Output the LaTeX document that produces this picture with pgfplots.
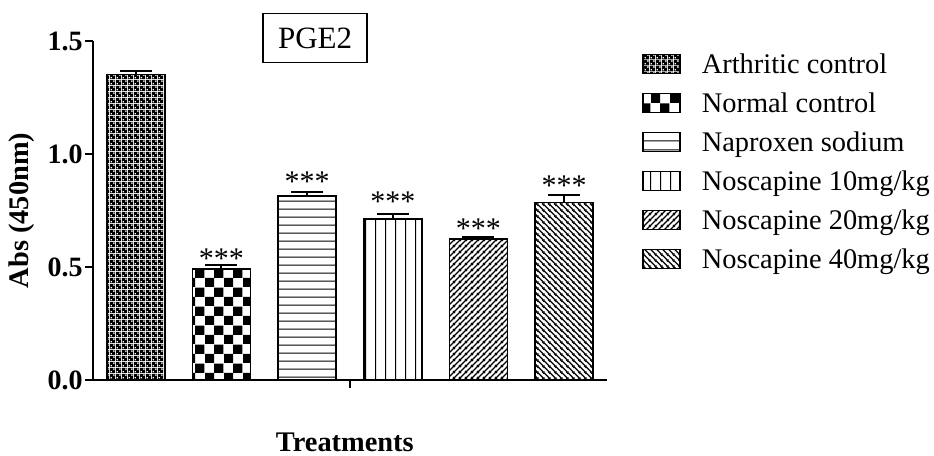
\documentclass[border=0pt]{standalone}
\usepackage{pgfplots}
\pgfplotsset{compat=1.18}
\usetikzlibrary{patterns.meta}
\usepackage{fontspec}
\setmainfont{Liberation Serif}

\tikzdeclarepattern{
  name=finecheck, type=uncolored,
  bounding box={(0pt,0pt) and (2.75pt,2.75pt)},
  tile size={(2.75pt,2.75pt)},
  code={\fill[even odd rule] (0pt,0pt) rectangle (2.75pt,2.75pt) (0.3pt,0.3pt) rectangle (1.15pt,1.15pt) (1.675pt,1.675pt) rectangle (2.525pt,2.525pt);}
}
\tikzdeclarepattern{
  name=coarsecheck, type=uncolored,
  bounding box={(0pt,0pt) and (9.3pt,9.3pt)},
  tile size={(9.3pt,9.3pt)},
  code={\fill (0pt,0pt) rectangle (4.65pt,4.65pt); \fill (4.65pt,4.65pt) rectangle (9.3pt,9.3pt);}
}
\tikzdeclarepattern{
  name=hlinesP, type=uncolored,
  bounding box={(0pt,0pt) and (4.2pt,4.2pt)},
  tile size={(4.2pt,4.2pt)},
  code={\draw[line width=0.5pt] (-0.5pt,2.1pt) -- (4.7pt,2.1pt);}
}
\tikzdeclarepattern{
  name=vlinesP, type=uncolored,
  bounding box={(0pt,0pt) and (4.75pt,4.75pt)},
  tile size={(4.75pt,4.75pt)},
  code={\draw[line width=0.5pt] (2.375pt,-0.5pt) -- (2.375pt,5.25pt);}
}
\tikzdeclarepattern{
  name=nelinesP, type=uncolored,
  bounding box={(0pt,0pt) and (2.8pt,2.8pt)},
  tile size={(2.8pt,2.8pt)},
  code={\draw[line width=0.65pt] (-1pt,-1pt) -- (3.8pt,3.8pt) (0pt,-2.8pt) -- (5.6pt,2.8pt) (-2.8pt,0pt) -- (2.8pt,5.6pt);}
}
\tikzdeclarepattern{
  name=nwlinesP, type=uncolored,
  bounding box={(0pt,0pt) and (2.8pt,2.8pt)},
  tile size={(2.8pt,2.8pt)},
  code={\draw[line width=0.65pt] (-1pt,3.8pt) -- (3.8pt,-1pt) (-2.8pt,2.8pt) -- (2.8pt,-2.8pt) (0pt,5.6pt) -- (5.6pt,0pt);}
}

\pgfplotsset{
  mybar/.style={ybar, bar width=29pt, draw=black, line width=0.75pt,
    legend image code/.code={\draw[##1, line width=0.75pt] (0pt,0pt) rectangle (18.5pt,9.5pt);},
    error bars/y dir=plus, error bars/y explicit,
    error bars/error mark options={rotate=90, line width=1pt, mark size=8pt, black},
    error bars/error bar style={line width=1pt, black}},
}

\begin{document}
\begin{tikzpicture}
\useasboundingbox (0pt,0pt) rectangle (467pt,228pt);
\begin{axis}[
  at={(46.5pt,38pt)}, anchor=south west,
  scale only axis, width=257pt, height=169.5pt,
  xmin=0.5, xmax=6.5, ymin=0, ymax=1.5,
  axis lines=left, axis line style={-, line width=1pt, black},
  xtick={3.5}, xticklabels={},
  ytick={0,0.5,1,1.5},
  tick align=outside, major tick length=4pt, tick style={line width=1pt, black},
  /pgf/number format/assume math mode=true,
  yticklabel style={font=\fontsize{14}{14}\selectfont\bfseries, inner xsep=1pt,
    /pgf/number format/.cd, fixed, fixed zerofill, precision=1},
  ylabel={Abs (450nm)},
  ylabel style={at={(axis description cs:-0.138,0.5)}, anchor=center, font=\fontsize{14.2}{16}\selectfont\bfseries},
  xlabel={Treatments},
  xlabel style={at={(axis description cs:0.49,-0.183)}, anchor=center, font=\fontsize{14.2}{16}\selectfont\bfseries},
  title={PGE2},
  title style={at={(axis description cs:0.432,0.9735)}, anchor=center, yshift=0pt, draw=black, line width=0.6pt,
    minimum width=52pt, minimum height=24.5pt, inner sep=0pt, font=\fontsize{15.5}{15.5}\selectfont},
  legend style={draw=none, fill=none, at={(axis description cs:1.068,0.9796)}, anchor=north west,
    inner sep=0pt, row sep=3.3pt, column sep=10.5pt,
    font=\fontsize{14.2}{15}\selectfont,
    nodes={inner sep=0pt, text height=12.7pt, text depth=3.5pt},
    cells={anchor=base west}},
  clip=false,
]
\addplot[mybar, pattern=finecheck] coordinates {(1,1.352) +- (0,0.015)};
\addlegendentry{Arthritic control}
\addplot[mybar, pattern=coarsecheck] coordinates {(2,0.491) +- (0,0.018)};
\addlegendentry{Normal control}
\addplot[mybar, pattern=hlinesP] coordinates {(3,0.814) +- (0,0.019)};
\addlegendentry{Naproxen sodium}
\addplot[mybar, pattern=vlinesP] coordinates {(4,0.712) +- (0,0.021)};
\addlegendentry{Noscapine 10mg/kg}
\addplot[mybar, pattern=nelinesP] coordinates {(5,0.623) +- (0,0.011)};
\addlegendentry{Noscapine 20mg/kg}
\addplot[mybar, pattern=nwlinesP] coordinates {(6,0.786) +- (0,0.034)};
\addlegendentry{Noscapine 40mg/kg}
\addplot[draw=none, mark=none, forget plot, nodes near coords, point meta=explicit symbolic,
  every node near coord/.append style={anchor=base, inner sep=0pt, text=black, font=\fontsize{15}{15}\selectfont}]
  coordinates {(2,0.494) [***] (3,0.835) [***] (4,0.745) [***] (5,0.627) [***] (6,0.817) [***]};
\end{axis}
\end{tikzpicture}
\end{document}
